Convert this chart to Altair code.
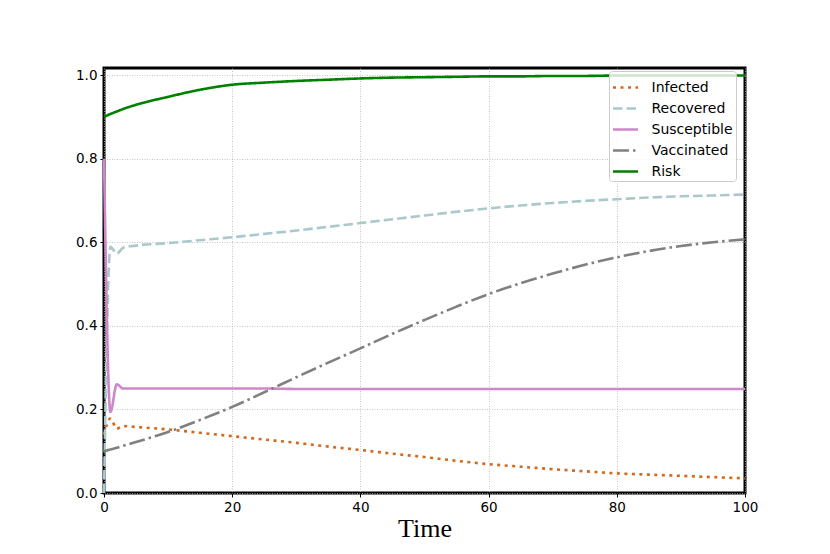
import altair as alt
import pandas as pd

t = [0, 1, 2, 3, 5, 10, 15, 20, 25, 30, 35, 40, 45, 50, 55, 60, 65, 70, 75, 80, 85, 90, 95, 100]
infected = [0.140, 0.178, 0.154, 0.160, 0.158, 0.152, 0.144, 0.136, 0.128, 0.120, 0.111, 0.103,
            0.094, 0.086, 0.077, 0.069, 0.063, 0.057, 0.052, 0.047, 0.044, 0.041, 0.038, 0.035]
recovered = [0.000, 0.589, 0.573, 0.587, 0.592, 0.598, 0.605, 0.612, 0.620, 0.628, 0.637, 0.646,
             0.655, 0.664, 0.673, 0.681, 0.688, 0.694, 0.699, 0.703, 0.707, 0.710, 0.712, 0.714]
susceptible = [0.800, 0.194, 0.260, 0.250, 0.250, 0.250, 0.250, 0.250, 0.250, 0.249, 0.249, 0.249,
               0.249, 0.249, 0.249, 0.249, 0.249, 0.249, 0.249, 0.249, 0.249, 0.249, 0.249, 0.249]
vaccinated = [0.100, 0.104, 0.108, 0.113, 0.122, 0.146, 0.175, 0.206, 0.241, 0.277, 0.312, 0.346,
              0.381, 0.414, 0.446, 0.476, 0.502, 0.525, 0.546, 0.564, 0.579, 0.591, 0.600, 0.607]
risk = [0.900, 0.907, 0.913, 0.919, 0.929, 0.948, 0.965, 0.977, 0.982, 0.986, 0.989, 0.992,
        0.994, 0.995, 0.996, 0.997, 0.997, 0.998, 0.998, 0.999, 0.999, 0.999, 0.999, 0.999]

series_names = ["Infected", "Recovered", "Susceptible", "Vaccinated", "Risk"]
series_values = [infected, recovered, susceptible, vaccinated, risk]
colors = ["#d2691e", "#a9c9cc", "#cc88c8", "#808080", "#008000"]
dashes = [[3, 4.5], [9.5, 4], [1, 0], [16, 4, 2.5, 4], [1, 0]]

rows = []
for name, vals in zip(series_names, series_values):
    for ti, v in zip(t, vals):
        rows.append({"time": ti, "value": v, "series": name})
df = pd.DataFrame(rows)

legend = alt.Legend(
    orient="none", legendX=505, legendY=3,
    symbolType="stroke", symbolSize=625, symbolStrokeWidth=2.6,
    labelFontSize=14, labelFont="DejaVu Sans", labelColor="black",
    labelOffset=12, padding=2.5, rowPadding=0,
    fillColor="rgba(255,255,255,0.8)", strokeColor="#cccccc", cornerRadius=3,
)

chart = alt.Chart(df).mark_line(strokeWidth=2.6, interpolate="monotone", strokeCap="butt").encode(
    x=alt.X("time:Q", scale=alt.Scale(domain=[0, 100], nice=False),
            axis=alt.Axis(values=[0, 20, 40, 60, 80, 100], title="Time", labelFlush=False,
                          titleFont="Liberation Serif", titleFontSize=26,
                          titleFontWeight="normal", titleColor="black", titlePadding=2)),
    y=alt.Y("value:Q", scale=alt.Scale(domain=[0, 1.017], nice=False),
            axis=alt.Axis(values=[0, 0.2, 0.4, 0.6, 0.8, 1.0], format=".1f", title=None,
                          labelFlush=False)),
    color=alt.Color("series:N", title=None,
                    scale=alt.Scale(domain=series_names, range=colors), legend=legend),
    strokeDash=alt.StrokeDash("series:N", title=None,
                              scale=alt.Scale(domain=series_names, range=dashes), legend=legend),
    order=alt.Order("time:Q"),
).properties(
    width=641, height=425,
    autosize=alt.AutoSizeParams(type="none"),
    padding={"left": 96, "top": 60, "right": 77, "bottom": 53},
).configure_view(
    stroke="black", strokeWidth=3
).configure_axis(
    domain=False, grid=True, gridColor="#b8b8b8", gridDash=[1, 1.5], gridWidth=0.8,
    tickColor="black", tickSize=4, tickWidth=1, labelPadding=3,
    labelFont="DejaVu Sans", labelFontSize=13.5, labelColor="black",
)

chart.save("out.html", embed_options={"renderer": "svg", "actions": False})
